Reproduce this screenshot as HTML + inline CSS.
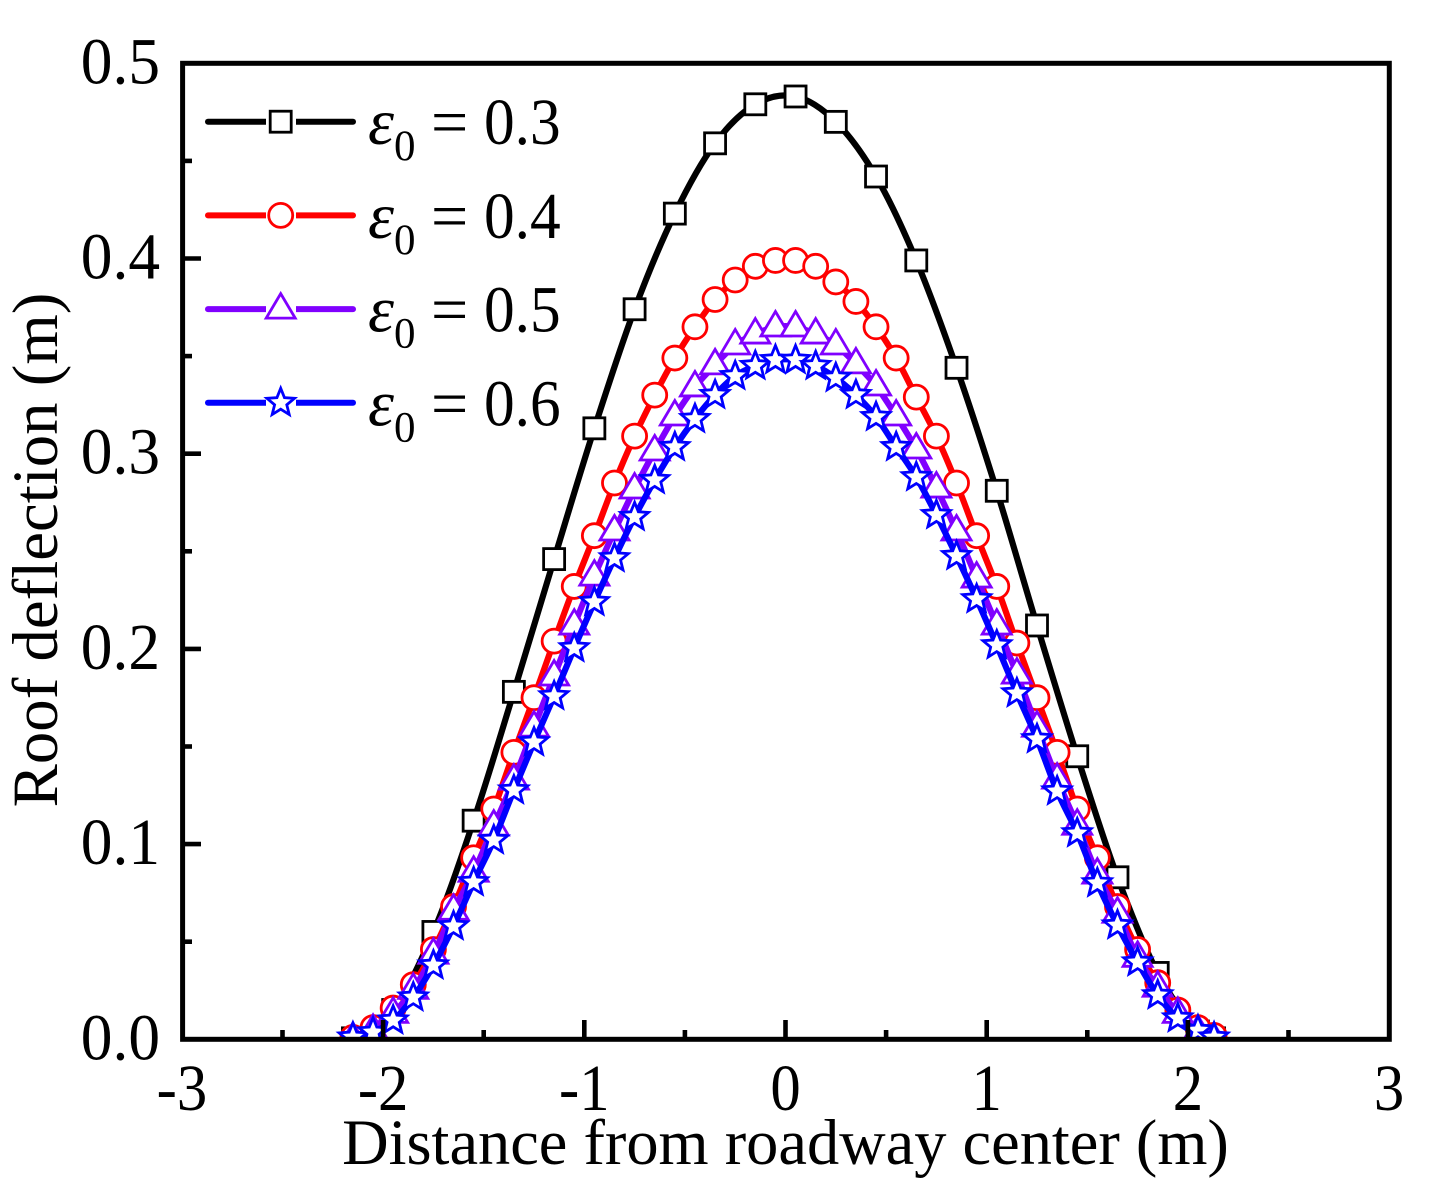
<!DOCTYPE html>
<html>
<head>
<meta charset="utf-8">
<style>
html,body{margin:0;padding:0;background:#fff;}
svg{display:block;}
text{font-family:"Liberation Serif",serif;fill:#000;}
</style>
</head>
<body>
<svg id="chart" xmlns="http://www.w3.org/2000/svg" width="1439" height="1197" viewBox="0 0 1439 1197">
  <defs><clipPath id="plot-clip"><rect x="182" y="63" width="1207" height="976"/></clipPath></defs>
  <g id="series-layer" clip-path="url(#plot-clip)"></g>
  <rect x="182.6" y="63.3" width="1206.7" height="976" fill="none" stroke="#000" stroke-width="5"/>
  <g id="tick-layer"></g>
  <text x="785.5" y="1164" font-size="64.4" text-anchor="middle">Distance from roadway center (m)</text>
  <text transform="translate(57 550) rotate(-90)" font-size="64.8" text-anchor="middle">Roof deflection (m)</text>
  <g id="legend-layer"></g>
</svg>
<script>
var xTicks = [-3, -2, -1, 0, 1, 2, 3];
var xMinorTicks = [-2.5, -1.5, -0.5, 0.5, 1.5, 2.5];
var yTicks = [0, 0.1, 0.2, 0.3, 0.4, 0.5];
var yMinorTicks = [0.05, 0.15, 0.25, 0.35, 0.45];
var xTickLabels = ['-3', '-2', '-1', '0', '1', '2', '3'];
var yTickLabels = ['0.0', '0.1', '0.2', '0.3', '0.4', '0.5'];

var xDense = [-2.15,-2.05,-1.95,-1.85,-1.75,-1.65,-1.55,-1.45,-1.35,-1.25,-1.15,-1.05,-0.95,-0.85,-0.75,-0.65,-0.55,-0.45,-0.35,-0.25,-0.15,-0.05,0.05,0.15,0.25,0.35,0.45,0.55,0.65,0.75,0.85,0.95,1.05,1.15,1.25,1.35,1.45,1.55,1.65,1.75,1.85,1.95,2.05,2.13];
var xSparse = [-2.15,-1.95,-1.75,-1.55,-1.35,-1.15,-0.95,-0.75,-0.55,-0.35,-0.15,0.05,0.25,0.45,0.65,0.85,1.05,1.25,1.45,1.65,1.85,2.05,2.13];

var yE03 = [0.0005,0.015,0.055,0.112,0.178,0.246,0.313,0.374,0.423,0.459,0.479,0.483,0.470,0.442,0.399,0.344,0.281,0.212,0.145,0.083,0.034,0.004,0.0005];
var yE04 = [0.001,0.006,0.016,0.028,0.046,0.068,0.093,0.118,0.147,0.175,0.204,0.232,0.258,0.285,0.309,0.330,0.349,0.365,0.379,0.389,0.396,0.399,0.399,0.396,0.388,0.378,0.365,0.349,0.329,0.309,0.285,0.258,0.232,0.203,0.175,0.147,0.118,0.093,0.068,0.046,0.029,0.015,0.006,0.002];
var yE05 = [0.0005,0.0046,0.0133,0.0256,0.0436,0.0661,0.0856,0.1092,0.1328,0.1599,0.1861,0.2122,0.2373,0.2604,0.2819,0.3014,0.3193,0.3342,0.3455,0.3557,0.3613,0.3649,0.3649,0.3613,0.3557,0.346,0.3347,0.3193,0.3024,0.2824,0.2604,0.2363,0.2122,0.1871,0.1599,0.1333,0.1097,0.0846,0.0646,0.042,0.0267,0.0133,0.0041,0];
var yE06 = [0.001,0.0036,0.0097,0.0215,0.0379,0.0579,0.0805,0.102,0.1276,0.1522,0.1758,0.2004,0.224,0.2465,0.2676,0.2865,0.3034,0.3178,0.3301,0.3398,0.345,0.348,0.348,0.345,0.3388,0.3301,0.3188,0.3034,0.288,0.2686,0.2476,0.2255,0.2019,0.1773,0.1538,0.1271,0.1056,0.08,0.0584,0.0395,0.0226,0.0108,0.0046,0.001];

var legendValues = ['0.3', '0.4', '0.5', '0.6'];
var seriesNames = ['e0-0-3', 'e0-0-4', 'e0-0-5', 'e0-0-6'];

var NS = 'http://www.w3.org/2000/svg';
function xScale(v) { return 785.5 + v * 201.2; }
function yScale(v) { return 1039.3 - v * 1952; }

function make(tag, parent) {
  var el = document.createElementNS(NS, tag);
  parent.appendChild(el);
  return el;
}

function smoothPath(xs, ys) {
  var pts = xs.map(function (x, i) { return [xScale(x), yScale(ys[i])]; });
  var d = 'M' + pts[0][0].toFixed(2) + ' ' + pts[0][1].toFixed(2);
  for (var i = 0; i < pts.length - 1; i++) {
    var p0 = pts[Math.max(i - 1, 0)], p1 = pts[i], p2 = pts[i + 1], p3 = pts[Math.min(i + 2, pts.length - 1)];
    var c1x = p1[0] + (p2[0] - p0[0]) / 6, c1y = p1[1] + (p2[1] - p0[1]) / 6;
    var c2x = p2[0] - (p3[0] - p1[0]) / 6, c2y = p2[1] - (p3[1] - p1[1]) / 6;
    d += 'C' + c1x.toFixed(2) + ' ' + c1y.toFixed(2) + ' ' + c2x.toFixed(2) + ' ' + c2y.toFixed(2) + ' ' + p2[0].toFixed(2) + ' ' + p2[1].toFixed(2);
  }
  return d;
}

function starPoints(cx, cy, R, r) {
  var out = [];
  for (var i = 0; i < 10; i++) {
    var rad = i % 2 ? r : R;
    var a = -Math.PI / 2 + i * Math.PI / 5;
    out.push((cx + rad * Math.cos(a)).toFixed(2) + ',' + (cy + rad * Math.sin(a)).toFixed(2));
  }
  return out.join(' ');
}

function drawMarker(parent, kind, cx, cy, color) {
  var m;
  if (kind === 'square') {
    m = make('rect', parent);
    m.setAttribute('x', cx - 10.5);
    m.setAttribute('y', cy - 10.5);
    m.setAttribute('width', 21);
    m.setAttribute('height', 21);
  } else if (kind === 'circle') {
    m = make('circle', parent);
    m.setAttribute('cx', cx);
    m.setAttribute('cy', cy);
    m.setAttribute('r', 12);
  } else if (kind === 'triangle') {
    m = make('polygon', parent);
    m.setAttribute('points', cx + ',' + (cy - 15.5) + ' ' + (cx + 14.5) + ',' + (cy + 9) + ' ' + (cx - 14.5) + ',' + (cy + 9));
  } else {
    m = make('polygon', parent);
    m.setAttribute('points', starPoints(cx, cy, 14.5, 6.4));
  }
  m.setAttribute('fill', '#fff');
  m.setAttribute('stroke', color);
  m.setAttribute('stroke-width', 2.8);
  
  
  return m;
}

var seriesXs = [xSparse, xDense, xDense, xDense];
var seriesYs = [yE03, yE04, yE05, yE06];
var seriesColors = ['#000000', '#ff0000', '#8000ff', '#0000ff'];
var seriesKinds = ['square', 'circle', 'triangle', 'star'];

var seriesLayer = document.getElementById('series-layer');
seriesXs.forEach(function (xs, s) {
  var g = make('g', seriesLayer);
  
  
  var line = make('path', g);
  line.setAttribute('d', smoothPath(xs, seriesYs[s]));
  line.setAttribute('fill', 'none');
  line.setAttribute('stroke', seriesColors[s]);
  line.setAttribute('stroke-width', 6.2);
  line.setAttribute('stroke-linejoin', 'round');
  
  
  xs.forEach(function (x, i) {
    drawMarker(g, seriesKinds[s], xScale(x), yScale(seriesYs[s][i]), seriesColors[s]);
  });
});

var tickLayer = document.getElementById('tick-layer');
function tick(x1, y1, x2, y2, name) {
  var t = make('line', tickLayer);
  t.setAttribute('x1', x1);
  t.setAttribute('y1', y1);
  t.setAttribute('x2', x2);
  t.setAttribute('y2', y2);
  t.setAttribute('stroke', '#000');
  t.setAttribute('stroke-width', 4.6);
  
  
}
function label(x, y, str, anchor, name, sx) {
  var t = make('text', tickLayer);
  t.setAttribute('transform', 'translate(' + x + ' ' + y + ') scale(' + sx + ' 1)');
  t.setAttribute('font-size', 66);
  t.setAttribute('text-anchor', anchor);
  
  
  t.textContent = str;
}
xTicks.forEach(function (v, i) {
  if (i > 0 && i < xTicks.length - 1) tick(xScale(v), 1039, xScale(v), 1020, 'x-major-tick');
  label(xScale(v), 1110, xTickLabels[i], 'middle', 'x-tick-label', 0.92);
});
xMinorTicks.forEach(function (v) { tick(xScale(v), 1039, xScale(v), 1030, 'x-minor-tick'); });
yTicks.forEach(function (v, i) {
  if (i > 0 && i < yTicks.length - 1) tick(183, yScale(v), 201, yScale(v), 'y-major-tick');
  label(160, yScale(v) + 20, yTickLabels[i], 'end', 'y-tick-label', 0.96);
});
yMinorTicks.forEach(function (v) { tick(183, yScale(v), 192, yScale(v), 'y-minor-tick'); });

var legendLayer = document.getElementById('legend-layer');
legendValues.forEach(function (val, i) {
  var cy = 121.7 + i * 93.7;
  var g = make('g', legendLayer);
  
  
  var ln = make('line', g);
  ln.setAttribute('x1', 208);
  ln.setAttribute('x2', 353);
  ln.setAttribute('y1', cy);
  ln.setAttribute('y2', cy);
  ln.setAttribute('stroke', seriesColors[i]);
  ln.setAttribute('stroke-width', 6);
  ln.setAttribute('stroke-linecap', 'round');
  
  
  var gap = make('line', g);
  gap.setAttribute('x1', 266);
  gap.setAttribute('x2', 296);
  gap.setAttribute('y1', cy);
  gap.setAttribute('y2', cy);
  gap.setAttribute('stroke', '#fff');
  gap.setAttribute('stroke-width', 8);
  
  
  drawMarker(g, seriesKinds[i], 280.7, cy, seriesColors[i]);
  var eps = make('text', g);
  eps.setAttribute('x', 368);
  eps.setAttribute('y', cy + 22.5);
  eps.setAttribute('font-size', 66);
  eps.setAttribute('font-style', 'italic');
  
  
  eps.textContent = '\u03B5';
  var sub = make('text', g);
  sub.setAttribute('x', 394);
  sub.setAttribute('y', cy + 38.5);
  sub.setAttribute('font-size', 43);
  
  
  sub.textContent = '0';
  var eq = make('text', g);
  eq.setAttribute('x', 431);
  eq.setAttribute('y', cy + 22.5);
  eq.setAttribute('font-size', 66);
  
  
  eq.textContent = '=';
  var num = make('text', g);
  num.setAttribute('transform', 'translate(484 ' + (cy + 22.5) + ') scale(0.93 1)');
  num.setAttribute('font-size', 66);
  
  
  num.textContent = val;
});
</script>
</body>
</html>
